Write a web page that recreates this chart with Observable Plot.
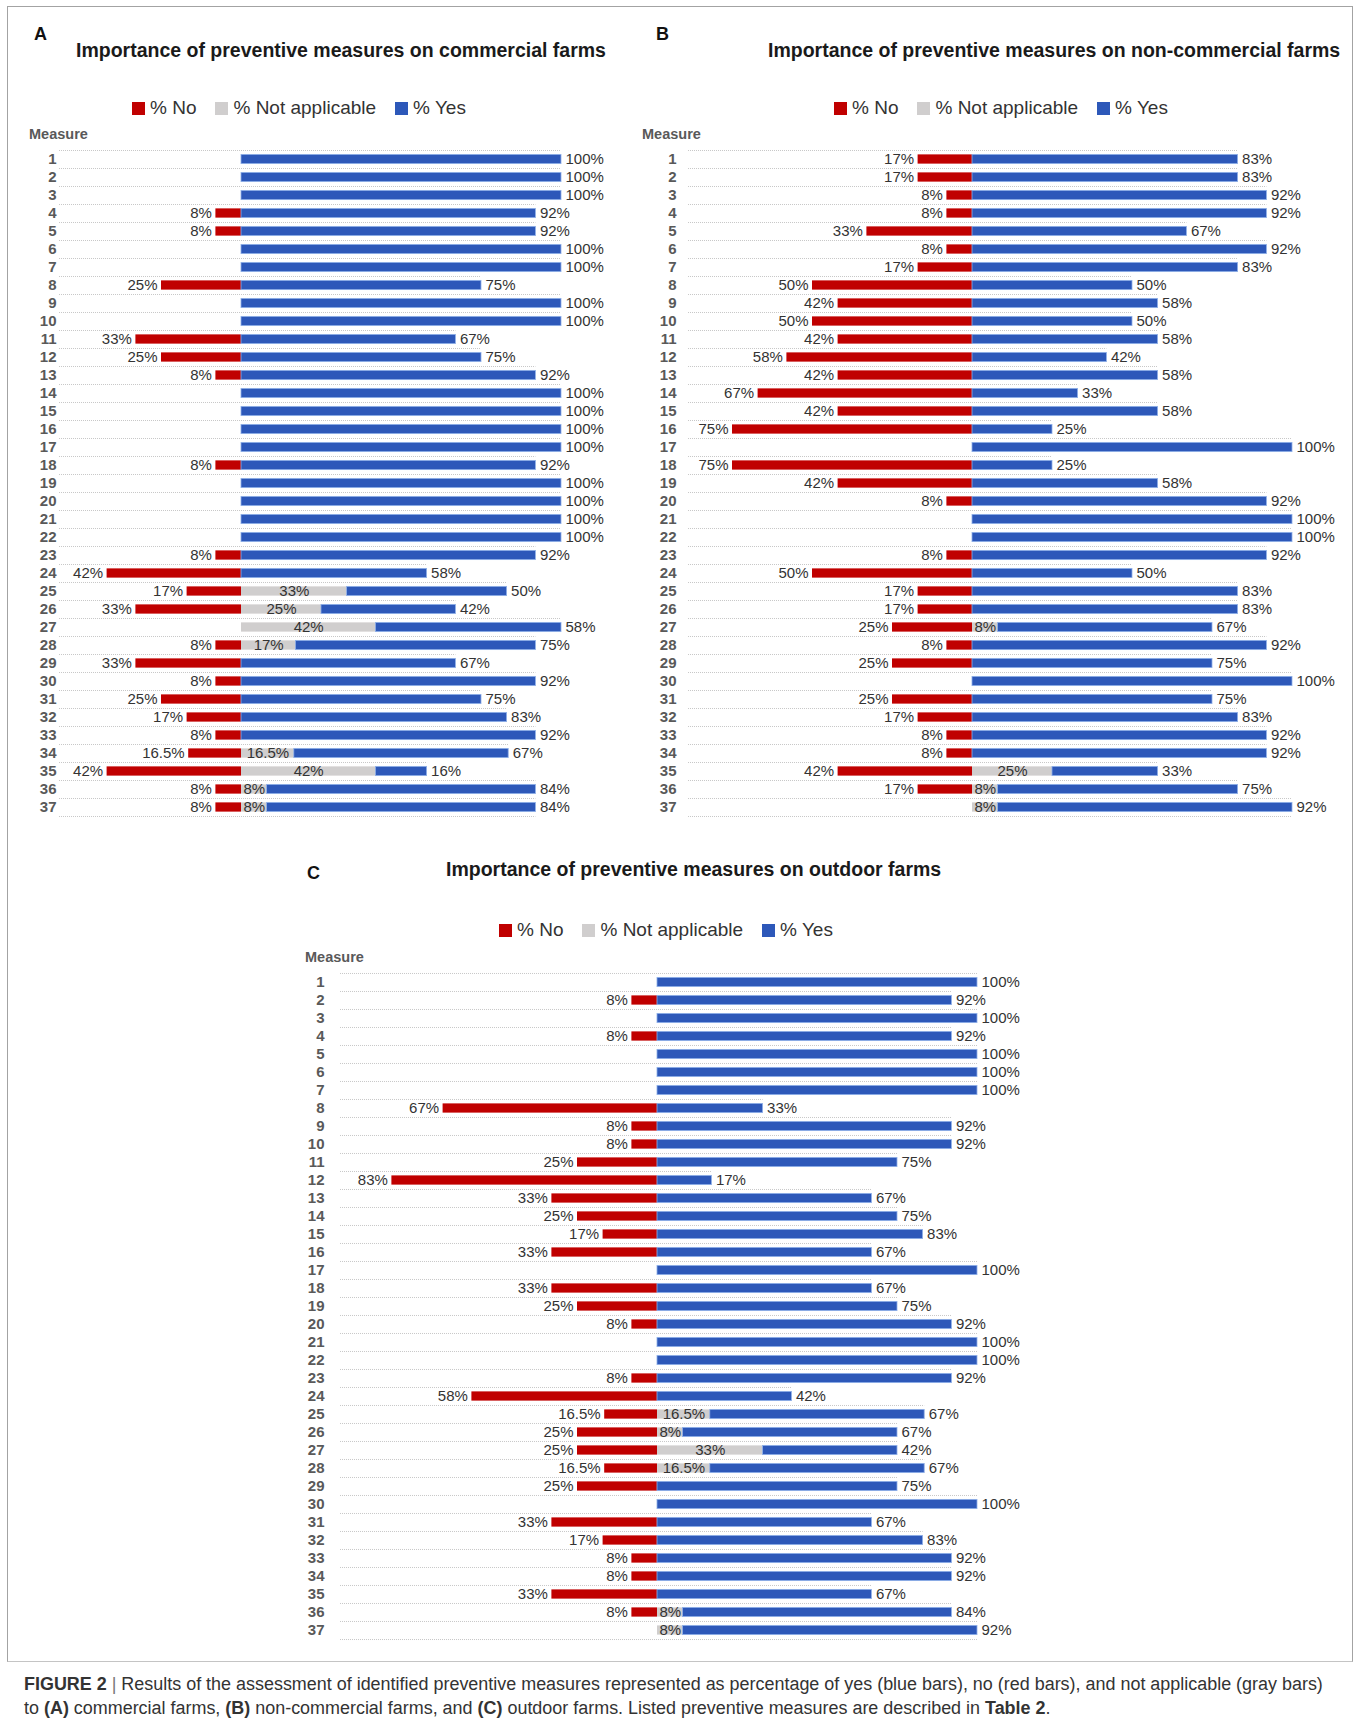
<!DOCTYPE html>
<html><head><meta charset="utf-8">
<script src="https://cdn.jsdelivr.net/npm/d3@7"></script>
<script src="https://cdn.jsdelivr.net/npm/@observablehq/plot@0.6"></script>
<style>
body{margin:0;background:#fff;font-family:"Liberation Sans",Arial,Helvetica,sans-serif;}
#page{position:relative;width:1356px;height:1727px;overflow:hidden;background:#fff;}
.abs{position:absolute;white-space:nowrap;}
.letter{font-weight:bold;font-size:18px;line-height:22px;color:#111;}
.title{font-weight:bold;font-size:19.5px;line-height:24px;color:#1a1a1a;}
.legend{display:flex;align-items:center;font-size:19px;line-height:24px;color:#333;}
.legend .item{display:flex;align-items:center;margin-right:19px;}
.legend .sw{width:13px;height:13px;margin-right:5px;}
.measure{font-weight:bold;font-size:14.5px;line-height:18px;color:#595959;}
.caption{font-size:16px;line-height:24px;color:#333;}
.caption .sep{color:#777;font-weight:normal;}
.frame{position:absolute;border:1.5px solid #a3a3a3;border-bottom:1px solid #c4c4c4;box-sizing:border-box;}
.panel{position:absolute;}
.panel svg{overflow:visible;}
.panel g[aria-label^="y-axis"] text{font-weight:bold;fill:#595959;font-size:15px;}
</style></head><body><div id="page"></div>
<script>
// ---- data ----
const measures = ["1","2","3","4","5","6","7","8","9","10","11","12","13","14","15","16","17","18","19","20","21","22","23","24","25","26","27","28","29","30","31","32","33","34","35","36","37"];
const seriesNames = ["% No", "% Not applicable", "% Yes"];
const seriesColors = ["#c00000", "#d0cece", "#2d58b9"];

// A: commercial farms
const noA  = [0,0,0,8,8,0,0,25,0,0,33,25,8,0,0,0,0,8,0,0,0,0,8,42,17,33,0,8,33,8,25,17,8,16.5,42,8,8];
const naA  = [0,0,0,0,0,0,0,0,0,0,0,0,0,0,0,0,0,0,0,0,0,0,0,0,33,25,42,17,0,0,0,0,0,16.5,42,8,8];
const yesA = [100,100,100,92,92,100,100,75,100,100,67,75,92,100,100,100,100,92,100,100,100,100,92,58,50,42,58,75,67,92,75,83,92,67,16,84,84];
// B: non-commercial farms
const noB  = [17,17,8,8,33,8,17,50,42,50,42,58,42,67,42,75,0,75,42,8,0,0,8,50,17,17,25,8,25,0,25,17,8,8,42,17,0];
const naB  = [0,0,0,0,0,0,0,0,0,0,0,0,0,0,0,0,0,0,0,0,0,0,0,0,0,0,8,0,0,0,0,0,0,0,25,8,8];
const yesB = [83,83,92,92,67,92,83,50,58,50,58,42,58,33,58,25,100,25,58,92,100,100,92,50,83,83,67,92,75,100,75,83,92,92,33,75,92];
// C: outdoor farms
const noC  = [0,8,0,8,0,0,0,67,8,8,25,83,33,25,17,33,0,33,25,8,0,0,8,58,16.5,25,25,16.5,25,0,33,17,8,8,33,8,0];
const naC  = [0,0,0,0,0,0,0,0,0,0,0,0,0,0,0,0,0,0,0,0,0,0,0,0,16.5,8,33,16.5,0,0,0,0,0,0,0,8,8];
const yesC = [100,92,100,92,100,100,100,33,92,92,75,17,67,75,83,67,100,67,75,92,100,100,92,42,67,67,42,67,75,100,67,83,92,92,67,84,92];

const titles = [
  "Importance of preventive measures on commercial farms",
  "Importance of preventive measures on non-commercial farms",
  "Importance of preventive measures on outdoor farms"
];
const panelLetters = ["A", "B", "C"];

// ---- fonts ----
function hasFont(name) {
  const c = document.createElement("canvas").getContext("2d");
  const s = "abcdefghijklmnopqrstuvwxyz0123456789%";
  c.font = "40px monospace";
  const w0 = c.measureText(s).width;
  c.font = `40px "${name}", monospace`;
  return Math.abs(c.measureText(s).width - w0) > 0.5;
}
const FONT = '"Liberation Sans", Arial, Helvetica, sans-serif';
const narrow = hasFont("Liberation Sans Narrow");
const VALUE_FONT = narrow ? '"Liberation Sans Narrow", "Arial Narrow", sans-serif' : FONT;
const VALUE_SIZE = narrow ? 17 : 15;

// ---- layout ----
const page = document.getElementById("page");
function addDiv(cls, html, left, top) {
  const d = document.createElement("div");
  d.className = "abs " + cls;
  d.innerHTML = html;
  d.style.left = left + "px";
  d.style.top = top + "px";
  page.appendChild(d);
  return d;
}
function addLegend(left, top) {
  const d = addDiv("legend", "", left, top);
  seriesNames.forEach((n, i) => {
    const it = document.createElement("div");
    it.className = "item";
    it.innerHTML = `<span class="sw" style="background:${seriesColors[i]}"></span><span>${n}</span>`;
    d.appendChild(it);
  });
}

// frame
const fr = document.createElement("div");
fr.className = "frame";
Object.assign(fr.style, {left: "7px", top: "6px", width: "1346px", height: "1656px"});
page.appendChild(fr);

const fmt = v => `${v}%`;

function panel(cfg) {
  const {no, na, yes, left, top, width, height, mL, mR, mT, mB, xmin, tickPadding} = cfg;
  const rows = measures.map((m, i) => ({m, no: no[i], na: na[i], yes: yes[i]}));
  const step = (height - mT - mB) / measures.length;
  const inset = step * 0.243;
  const txt = {fill: "#333", fontSize: VALUE_SIZE, fontFamily: VALUE_FONT};
  const svg = Plot.plot({
    width, height,
    marginLeft: mL, marginRight: mR, marginTop: mT, marginBottom: mB,
    style: {fontFamily: FONT, fontSize: "15px", background: "transparent", overflow: "visible"},
    x: {domain: [xmin, 100], axis: null},
    y: {domain: measures, padding: 0, tickSize: 0, tickPadding, label: null},
    marks: [
      Plot.ruleY(rows, {y: "m", x1: d => xmin, x2: d => d.na + d.yes, dy: -step / 2,
        stroke: "#c8c8c8", strokeWidth: 1, strokeDasharray: "1,1"}),
      Plot.ruleY(rows.slice(-1), {y: "m", x1: d => xmin, x2: d => d.na + d.yes, dy: step / 2,
        stroke: "#c8c8c8", strokeWidth: 1, strokeDasharray: "1,1"}),
      Plot.barX(rows.filter(d => d.no > 0), {y: "m", x1: d => -d.no, x2: d => 0,
        fill: seriesColors[0], insetTop: inset, insetBottom: inset}),
      Plot.barX(rows.filter(d => d.na > 0), {y: "m", x1: d => 0, x2: d => d.na,
        fill: seriesColors[1], insetTop: inset, insetBottom: inset}),
      Plot.barX(rows, {y: "m", x1: d => d.na, x2: d => d.na + d.yes,
        fill: seriesColors[2], stroke: "#8fb0e8", strokeWidth: 0.8, insetTop: inset, insetBottom: inset}),
      Plot.text(rows.filter(d => d.no > 0), {y: "m", x: d => -d.no, text: d => fmt(d.no),
        textAnchor: "end", dx: -4, ...txt}),
      Plot.text(rows.filter(d => d.na > 0), {y: "m", x: d => d.na / 2, text: d => fmt(d.na),
        textAnchor: "middle", ...txt}),
      Plot.text(rows, {y: "m", x: d => d.na + d.yes, text: d => fmt(d.yes),
        textAnchor: "start", dx: 4, ...txt})
    ]
  });
  const wrap = document.createElement("div");
  wrap.className = "panel";
  wrap.style.left = left + "px";
  wrap.style.top = top + "px";
  wrap.appendChild(svg);
  page.appendChild(wrap);
}

// Panel A
addDiv("letter", panelLetters[0], 34, 23);
addDiv("title", titles[0], 76, 38);
addLegend(132, 96);
addDiv("measure", "Measure", 29, 125);
panel({no: noA, na: naA, yes: yesA, left: 0, top: 130, width: 640, height: 700,
  mL: 59, mR: 79, mT: 19, mB: 14, xmin: -56.875, tickPadding: 3});

// Panel B
addDiv("letter", panelLetters[1], 656, 23);
addDiv("title", titles[1], 768, 38);
addLegend(834, 96);
addDiv("measure", "Measure", 642, 125);
panel({no: noB, na: naB, yes: yesB, left: 640, top: 130, width: 716, height: 700,
  mL: 48, mR: 64, mT: 19, mB: 14, xmin: -88.75, tickPadding: 12});

// Panel C
addDiv("letter", panelLetters[2], 307, 862);
addDiv("title", titles[2], 446, 857);
addLegend(499, 918);
addDiv("measure", "Measure", 305, 948);
panel({no: noC, na: naC, yes: yesC, left: 270, top: 960, width: 790, height: 700,
  mL: 70, mR: 83, mT: 12, mB: 20, xmin: -99.06, tickPadding: 16});

// caption
const cap = addDiv("caption",
  `<span id="cap1"><b>FIGURE 2</b> <span class="sep">|</span> Results of the assessment of identified preventive measures represented as percentage of yes (blue bars), no (red bars), and not applicable (gray bars)</span><br>` +
  `to <b>(A)</b> commercial farms, <b>(B)</b> non-commercial farms, and <b>(C)</b> outdoor farms. Listed preventive measures are described in <b>Table 2</b>.`,
  24, 1672);
const w1 = document.getElementById("cap1").getBoundingClientRect().width;
if (w1 > 0) cap.style.fontSize = (16 * 1299 / w1).toFixed(2) + "px";
</script>
</body></html>
